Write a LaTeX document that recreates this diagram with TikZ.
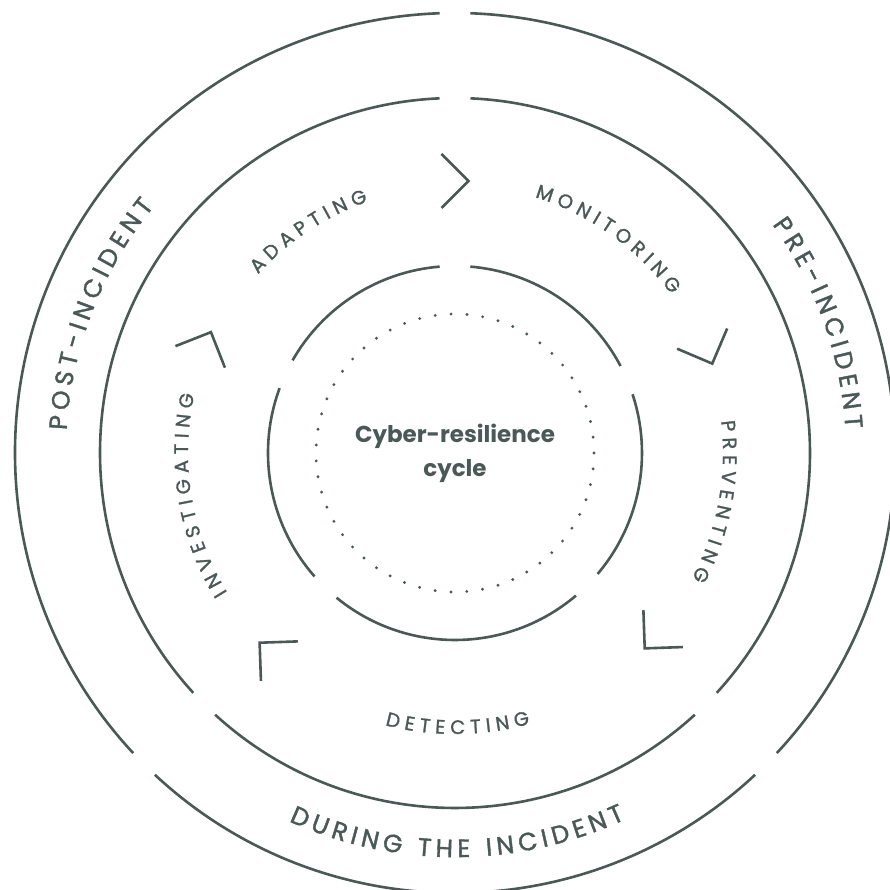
\documentclass[tikz,border=0pt]{standalone}
\usepackage{fontspec}
\setmainfont{Poppins}
\newfontfamily\bandfont[FakeBold=1.5]{Poppins}
\newfontfamily\phasefont[FakeBold=1.3]{Poppins}
\usetikzlibrary{decorations.text}
\definecolor{slate}{HTML}{4A5856}
\tikzset{
  ring/.style={draw=slate, line width=2.6pt},
  chevron/.style={draw=slate, line width=2.6pt},
  dots/.style={draw=slate, line width=3.2pt, line cap=round, dash pattern=on 0pt off 15.88pt},
  centre/.style={text=slate, font=\bfseries\fontsize{23}{30}\selectfont, anchor=base, inner sep=0pt},
  bandlabel/.style={decorate, decoration={text along path, text align=center, text color=slate,
    text={|\bandfont\fontsize{25}{25}\selectfont\kern4.8pt|#1}}},
  phaselabel/.style={decorate, decoration={text along path, text align=center, text color=slate,
    text={|\phasefont\fontsize{19.5}{19.5}\selectfont\kern5.4pt|#1}}}
}
\begin{document}
\begin{tikzpicture}[x=1pt, y=1pt]
\useasboundingbox (-455,-437) rectangle (434,453);
\foreach \a/\b in {92/223, 227/313, 317/448}
  \draw[ring] (\a:440) arc[start angle=\a, end angle=\b, radius=440];
\foreach \a/\b in {92.5/222.5, 227.5/312.5, 317.5/447.5}
  \draw[ring] (\a:355) arc[start angle=\a, end angle=\b, radius=355];
\foreach \a/\b in {27.7/85.3, 94.7/150.3, 159.7/221.3, 230.7/310.3, 319.7/378.3}
  \draw[ring] (\a:187) arc[start angle=\a, end angle=\b, radius=187];
\draw[dots] (0,0) circle[radius=139];
\foreach \a in {90, 22, 317, 227, 156.5}
  \draw[chevron, shift={(\a:272)}, rotate=\a-90] (-13.5,27) -- (13.5,0) -- (-13.5,-27);
\node[centre] (core) at (0,10) {Cyber-resilience};
\node[centre] (cycle) at (0,-24) {cycle};
\path[bandlabel=POST-INCIDENT] (219:389) arc[start angle=219, end angle=99, radius=389];
\path[bandlabel=PRE-INCIDENT] (80:391) arc[start angle=80, end angle=-40, radius=391];
\path[bandlabel=DURING THE INCIDENT] (200:404) arc[start angle=200, end angle=340, radius=404];
\path[phaselabel=ADAPTING] (164:266) arc[start angle=164, end angle=84, radius=266];
\path[phaselabel=MONITORING] (95:268) arc[start angle=95, end angle=15, radius=268];
\path[phaselabel=PREVENTING] (40:268) arc[start angle=40, end angle=-60, radius=268];
\path[phaselabel=DETECTING] (230:281) arc[start angle=230, end angle=310, radius=281];
\path[phaselabel=INVESTIGATING] (240:267) arc[start angle=240, end angle=140, radius=267];
\end{tikzpicture}
\end{document}
